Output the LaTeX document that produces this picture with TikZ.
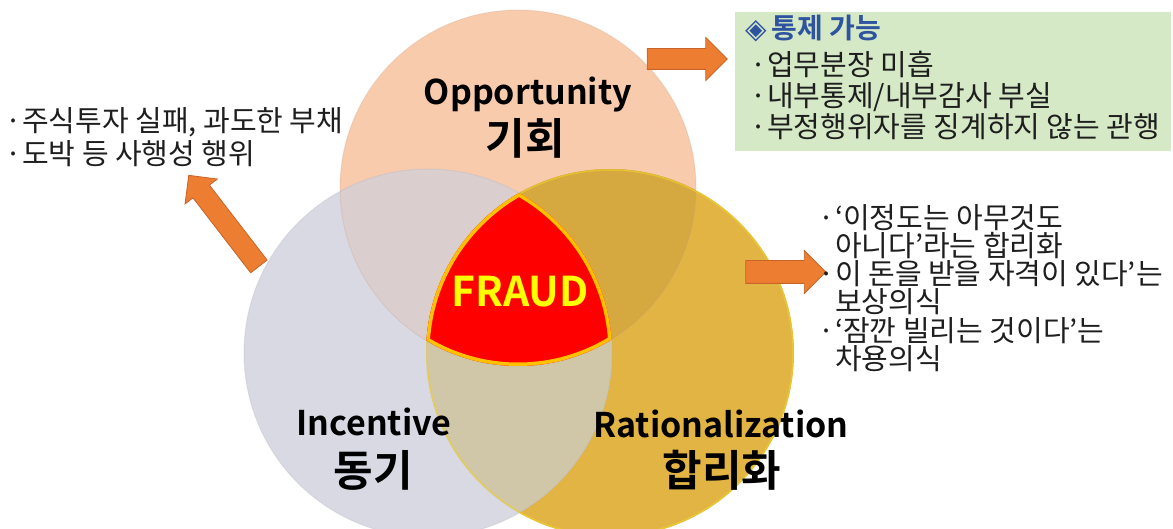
\documentclass[tikz,border=0pt]{standalone}
\usepackage{fontspec}
\setmainfont{Noto Sans CJK KR}[BoldFont={Noto Sans CJK KR Bold}]
\newfontfamily\symfont{DejaVu Sans}
\usetikzlibrary{shapes.arrows}

\definecolor{oppfill}{RGB}{248,203,173}
\definecolor{incfill}{RGB}{217,217,228}
\definecolor{ratfill}{RGB}{226,180,68}
\definecolor{oppinc}{RGB}{218,206,206}
\definecolor{oppraty}{RGB}{214,168,64}
\definecolor{incrat}{RGB}{208,198,168}
\definecolor{fraudred}{RGB}{255,0,0}
\definecolor{fraudedge}{RGB}{255,192,0}
\definecolor{fraudtext}{RGB}{255,255,0}
\definecolor{arrowfill}{RGB}{237,125,49}
\definecolor{arrowedge}{RGB}{200,100,40}
\definecolor{boxgreen}{RGB}{214,233,198}
\definecolor{titleblue}{RGB}{46,84,160}
\definecolor{bodytext}{RGB}{30,30,30}

\newcommand{\bul}{\makebox[17pt][l]{·}}

\tikzset{
  blockarrow/.style={single arrow, draw=arrowedge, fill=arrowfill, line width=0.8pt,
    inner xsep=0pt, inner ysep=10pt, minimum height=80pt, single arrow head extend=11pt},
  enlabel/.style={font=\bfseries\fontsize{34}{38}\selectfont, inner sep=0pt, anchor=base},
  korlabel/.style={font=\bfseries\fontsize{43}{46}\selectfont, inner sep=0pt},
  bullettext/.style={text=bodytext, align=left, inner sep=0pt, anchor=west}
}

\begin{document}
\begin{tikzpicture}[x=1pt, y=-1pt]
  \useasboundingbox (0,0) rectangle (1173,529);
  \clip (0,0) rectangle (1173,529);

  % circle centres
  \coordinate (opp) at (518,188);
  \coordinate (inc) at (428,353);
  \coordinate (rat) at (610,353);

  % circles
  \fill[oppfill] (opp) circle[radius=178pt];
  \fill[ratfill] (rat) circle[radius=184pt];
  \fill[incfill] (inc) circle[radius=184pt];

  % overlaps
  \begin{scope}
    \clip (opp) circle[radius=178pt];
    \fill[oppinc] (inc) circle[radius=184pt];
    \fill[oppraty] (rat) circle[radius=184pt];
  \end{scope}
  \begin{scope}
    \clip (inc) circle[radius=184pt];
    \fill[incrat] (rat) circle[radius=184pt];
  \end{scope}

  % rims
  \draw[oppfill!80!black, opacity=0.25, line width=1pt] (opp) circle[radius=178pt];
  \draw[incfill!80!black, opacity=0.25, line width=1pt] (inc) circle[radius=184pt];
  \draw[ratfill!60!yellow, opacity=0.6, line width=1.5pt] (rat) circle[radius=183pt];

  % fraud
  \begin{scope}
    \clip (opp) circle[radius=178pt];
    \clip (inc) circle[radius=184pt];
    \clip (rat) circle[radius=184pt];
    \fill[fraudred] (300,150) rectangle (750,400);
    \draw[fraudedge, line width=7pt] (opp) circle[radius=178pt] (inc) circle[radius=184pt]
      (rat) circle[radius=184pt];
  \end{scope}
  \node[font=\bfseries\fontsize{41}{44}\selectfont, text=fraudtext, inner sep=0pt, anchor=base]
    (fraud) at (520,307) {FRAUD};

  % labels
  \node[enlabel] (oppen) at (528,105) {Opportunity};
  \node[korlabel] (oppko) at (525,138) {기회};
  \node[enlabel] (incen) at (374,435) {Incentive};
  \node[korlabel] (incko) at (373,470) {동기};
  \node[enlabel] (raten) at (721,437) {Rationalization};
  \node[korlabel] (ratko) at (722,470) {합리화};

  % arrows
  \node[blockarrow] (opparrow) at (682,59) {};
  \node[blockarrow, inner ysep=11pt, single arrow head extend=10pt] (ratarrow) at (780,272) {};
  \node[blockarrow, minimum height=115pt, single arrow head extend=10pt,
    rotate=127.6] (incarrow) at (227,225) {};

  % opportunity box
  \node[fill=boxgreen, minimum width=436pt, minimum height=139pt, inner sep=0pt]
    (oppbox) at (953,81.5) {};
  \node[bullettext, text=titleblue, font=\bfseries\fontsize{28}{30}\selectfont]
    (opptitle) at (745,28) {{\symfont ◈}\,통제 가능};
  \node[bullettext, font=\fontsize{29}{31}\selectfont] (opplist) at (750,95)
    {\bul 업무분장 미흡\\ \bul 내부통제/내부감사 부실\\ \bul 부정행위자를 징계하지 않는 관행};

  % incentive text
  \node[bullettext, font=\fontsize{29}{33}\selectfont] (inclist) at (5,137)
    {\bul 주식투자 실패, 과도한 부채\\ \bul 도박 등 사행성 행위};

  % rationalization text
  \node[bullettext, font=\fontsize{29}{28.3}\selectfont] (ratlist) at (818,288)
    {\bul ‘이정도는 아무것도\\ \hspace*{17pt}아니다’라는 합리화\\
     \bul 이 돈을 받을 자격이 있다’는\\ \hspace*{17pt}보상의식\\
     \bul ‘잠깐 빌리는 것이다’는\\ \hspace*{17pt}차용의식};
\end{tikzpicture}
\end{document}
